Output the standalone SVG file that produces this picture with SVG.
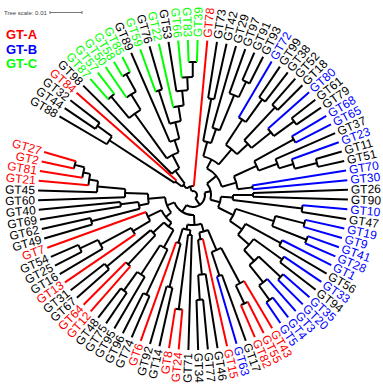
<svg xmlns="http://www.w3.org/2000/svg" width="383" height="386" viewBox="0 0 383 386">
<style>
.t text{font-family:"Liberation Sans",Arial,sans-serif;font-size:12px;fill:#000}
.t .L{text-anchor:end}
.t .fr{fill:#f00}.t .fb{fill:#00f}.t .fg{fill:#0f0}
#connectors line,#connectors circle{fill:none;stroke:#000;stroke-width:2}
#connectors .sr{stroke:#f00}#connectors .sb{stroke:#00f}#connectors .sg{stroke:#0f0}
.leg{font-family:"Liberation Sans",Arial,sans-serif;font-weight:bold;font-size:13px}
</style>
<rect width="383" height="386" fill="#fff"/>
<g id="scale">
<text x="4" y="14.5" font-family="Liberation Sans,Arial,sans-serif" font-size="6" fill="#444">Tree scale: 0.01</text>
<path d="M50 12.5H82M50 11V14M82 11V14" stroke="#777" stroke-width="1" fill="none"/>
</g>
<g id="legend" class="leg">
<text x="6" y="39.3" fill="#f00">GT-A</text>
<text x="6" y="54" fill="#00f">GT-B</text>
<text x="6" y="68.3" fill="#0f0">GT-C</text>
</g>
<g id="connectors" transform="translate(193,195) rotate(300.5)">
<!-- A -->
<circle r="118" pathLength="360" stroke-dasharray="3.6 360" transform="rotate(-86.4)"/>
<line transform="rotate(3.6)" y1="-118" y2="-155"/>
<line transform="rotate(7.2)" y1="-118" y2="-155"/>
<circle r="100" pathLength="360" stroke-dasharray="5.4 360" transform="rotate(-90)"/>
<line transform="rotate(0)" y1="-100" y2="-155"/>
<line transform="rotate(5.4)" y1="-100" y2="-118"/>
<circle r="22" pathLength="360" stroke-dasharray="8.1 360" transform="rotate(-87.3)"/>
<line transform="rotate(2.7)" y1="-22" y2="-100"/>
<line class="sr" transform="rotate(10.8)" y1="-22" y2="-155"/>
<!-- B -->
<circle r="128" pathLength="360" stroke-dasharray="3.6 360" transform="rotate(-72)"/>
<line class="sg" transform="rotate(18)" y1="-128" y2="-155"/>
<line class="sg" transform="rotate(21.6)" y1="-128" y2="-155"/>
<circle r="138" pathLength="360" stroke-dasharray="3.6 360" transform="rotate(-61.2)"/>
<line class="sg" transform="rotate(28.8)" y1="-138" y2="-155"/>
<line class="sg" transform="rotate(32.4)" y1="-138" y2="-155"/>
<circle r="118" pathLength="360" stroke-dasharray="5.4 360" transform="rotate(-64.8)"/>
<line class="sg" transform="rotate(25.2)" y1="-118" y2="-155"/>
<line transform="rotate(30.6)" y1="-118" y2="-138"/>
<circle r="100" pathLength="360" stroke-dasharray="8.1 360" transform="rotate(-70.2)"/>
<line transform="rotate(19.8)" y1="-100" y2="-128"/>
<line transform="rotate(27.9)" y1="-100" y2="-118"/>
<circle r="110" pathLength="360" stroke-dasharray="3.6 360" transform="rotate(-50.4)"/>
<line class="sg" transform="rotate(39.6)" y1="-110" y2="-155"/>
<line transform="rotate(43.2)" y1="-110" y2="-155"/>
<circle r="133" pathLength="360" stroke-dasharray="3.6 360" transform="rotate(-32.4)"/>
<line class="sg" transform="rotate(57.6)" y1="-133" y2="-155"/>
<line class="sg" transform="rotate(61.2)" y1="-133" y2="-155"/>
<circle r="118" pathLength="360" stroke-dasharray="5.4 360" transform="rotate(-36)"/>
<line class="sg" transform="rotate(54)" y1="-118" y2="-155"/>
<line transform="rotate(59.4)" y1="-118" y2="-133"/>
<circle r="105" pathLength="360" stroke-dasharray="6.3 360" transform="rotate(-39.6)"/>
<line transform="rotate(50.4)" y1="-105" y2="-155"/>
<line transform="rotate(56.7)" y1="-105" y2="-118"/>
<circle r="90" pathLength="360" stroke-dasharray="6.75 360" transform="rotate(-43.2)"/>
<line class="sg" transform="rotate(46.8)" y1="-90" y2="-155"/>
<line transform="rotate(53.55)" y1="-90" y2="-105"/>
<circle r="75" pathLength="360" stroke-dasharray="8.78 360" transform="rotate(-48.6)"/>
<line transform="rotate(41.4)" y1="-75" y2="-110"/>
<line transform="rotate(50.18)" y1="-75" y2="-90"/>
<circle r="58" pathLength="360" stroke-dasharray="9.79 360" transform="rotate(-54)"/>
<line transform="rotate(36)" y1="-58" y2="-155"/>
<line transform="rotate(45.79)" y1="-58" y2="-75"/>
<circle r="45" pathLength="360" stroke-dasharray="17.05 360" transform="rotate(-66.15)"/>
<line transform="rotate(23.85)" y1="-45" y2="-100"/>
<line transform="rotate(40.9)" y1="-45" y2="-58"/>
<circle r="30" pathLength="360" stroke-dasharray="17.96 360" transform="rotate(-75.6)"/>
<line transform="rotate(14.4)" y1="-30" y2="-155"/>
<line transform="rotate(32.36)" y1="-30" y2="-45"/>
<circle r="14" pathLength="360" stroke-dasharray="16.65 360" transform="rotate(-83.25)"/>
<line transform="rotate(6.75)" y1="-14" y2="-22"/>
<line transform="rotate(23.4)" y1="-14" y2="-30"/>
<circle r="9" pathLength="360" stroke-dasharray="49.72 360" transform="rotate(-74.92)"/>
<line transform="rotate(15.08)" y1="-9" y2="-14"/>
<line class="sr" transform="rotate(64.8)" y1="-9" y2="-155"/>
<!-- C -->
<circle r="98" pathLength="360" stroke-dasharray="3.6 360" transform="rotate(-21.6)"/>
<line transform="rotate(68.4)" y1="-98" y2="-155"/>
<line transform="rotate(72)" y1="-98" y2="-155"/>
<circle r="125" pathLength="360" stroke-dasharray="3.6 360" transform="rotate(-7.2)"/>
<line transform="rotate(82.8)" y1="-125" y2="-155"/>
<line transform="rotate(86.4)" y1="-125" y2="-155"/>
<circle r="108" pathLength="360" stroke-dasharray="5.4 360" transform="rotate(-10.8)"/>
<line transform="rotate(79.2)" y1="-108" y2="-155"/>
<line transform="rotate(84.6)" y1="-108" y2="-125"/>
<circle r="70" pathLength="360" stroke-dasharray="6.3 360" transform="rotate(-14.4)"/>
<line transform="rotate(75.6)" y1="-70" y2="-155"/>
<line transform="rotate(81.9)" y1="-70" y2="-108"/>
<circle r="55" pathLength="360" stroke-dasharray="8.55 360" transform="rotate(-19.8)"/>
<line transform="rotate(70.2)" y1="-55" y2="-98"/>
<line transform="rotate(78.75)" y1="-55" y2="-70"/>
<circle r="118" pathLength="360" stroke-dasharray="3.6 360" transform="rotate(3.6)"/>
<line transform="rotate(93.6)" y1="-118" y2="-155"/>
<line transform="rotate(97.2)" y1="-118" y2="-155"/>
<circle r="90" pathLength="360" stroke-dasharray="5.4 360" transform="rotate(0)"/>
<line class="sb" transform="rotate(90)" y1="-90" y2="-155"/>
<line transform="rotate(95.4)" y1="-90" y2="-118"/>
<circle r="120" pathLength="360" stroke-dasharray="3.6 360" transform="rotate(10.8)"/>
<line transform="rotate(100.8)" y1="-120" y2="-155"/>
<line transform="rotate(104.4)" y1="-120" y2="-155"/>
<circle r="125" pathLength="360" stroke-dasharray="3.6 360" transform="rotate(21.6)"/>
<line transform="rotate(111.6)" y1="-125" y2="-155"/>
<line transform="rotate(115.2)" y1="-125" y2="-155"/>
<circle r="100" pathLength="360" stroke-dasharray="5.4 360" transform="rotate(18)"/>
<line class="sb" transform="rotate(108)" y1="-100" y2="-155"/>
<line transform="rotate(113.4)" y1="-100" y2="-125"/>
<circle r="75" pathLength="360" stroke-dasharray="8.1 360" transform="rotate(12.6)"/>
<line transform="rotate(102.6)" y1="-75" y2="-120"/>
<line transform="rotate(110.7)" y1="-75" y2="-100"/>
<circle r="60" pathLength="360" stroke-dasharray="13.95 360" transform="rotate(2.7)"/>
<line transform="rotate(92.7)" y1="-60" y2="-90"/>
<line transform="rotate(106.65)" y1="-60" y2="-75"/>
<circle r="40" pathLength="360" stroke-dasharray="25.2 360" transform="rotate(-15.52)"/>
<line transform="rotate(74.48)" y1="-40" y2="-55"/>
<line transform="rotate(99.68)" y1="-40" y2="-60"/>
<circle r="115" pathLength="360" stroke-dasharray="3.6 360" transform="rotate(28.8)"/>
<line class="sb" transform="rotate(118.8)" y1="-115" y2="-155"/>
<line class="sb" transform="rotate(122.4)" y1="-115" y2="-155"/>
<circle r="128" pathLength="360" stroke-dasharray="3.6 360" transform="rotate(43.2)"/>
<line transform="rotate(133.2)" y1="-128" y2="-155"/>
<line transform="rotate(136.8)" y1="-128" y2="-155"/>
<circle r="105" pathLength="360" stroke-dasharray="5.4 360" transform="rotate(39.6)"/>
<line class="sb" transform="rotate(129.6)" y1="-105" y2="-155"/>
<line transform="rotate(135)" y1="-105" y2="-128"/>
<circle r="90" pathLength="360" stroke-dasharray="6.3 360" transform="rotate(36)"/>
<line transform="rotate(126)" y1="-90" y2="-155"/>
<line transform="rotate(132.3)" y1="-90" y2="-105"/>
<circle r="70" pathLength="360" stroke-dasharray="8.55 360" transform="rotate(30.6)"/>
<line transform="rotate(120.6)" y1="-70" y2="-115"/>
<line transform="rotate(129.15)" y1="-70" y2="-90"/>
<circle r="60" pathLength="360" stroke-dasharray="3.6 360" transform="rotate(50.4)"/>
<line class="sb" transform="rotate(140.4)" y1="-60" y2="-155"/>
<line class="sb" transform="rotate(144)" y1="-60" y2="-155"/>
<circle r="45" pathLength="360" stroke-dasharray="17.32 360" transform="rotate(34.88)"/>
<line transform="rotate(124.88)" y1="-45" y2="-70"/>
<line transform="rotate(142.2)" y1="-45" y2="-60"/>
<circle r="30" pathLength="360" stroke-dasharray="46.44 360" transform="rotate(-2.92)"/>
<line transform="rotate(87.08)" y1="-30" y2="-40"/>
<line transform="rotate(133.52)" y1="-30" y2="-45"/>
<!-- D -->
<circle r="60" pathLength="360" stroke-dasharray="3.6 360" transform="rotate(57.6)"/>
<line transform="rotate(147.6)" y1="-60" y2="-155"/>
<line transform="rotate(151.2)" y1="-60" y2="-155"/>
<circle r="110" pathLength="360" stroke-dasharray="3.6 360" transform="rotate(64.8)"/>
<line class="sb" transform="rotate(154.8)" y1="-110" y2="-155"/>
<line transform="rotate(158.4)" y1="-110" y2="-155"/>
<circle r="40" pathLength="360" stroke-dasharray="7.2 360" transform="rotate(59.4)"/>
<line transform="rotate(149.4)" y1="-40" y2="-60"/>
<line transform="rotate(156.6)" y1="-40" y2="-110"/>
<circle r="115" pathLength="360" stroke-dasharray="3.6 360" transform="rotate(72)"/>
<line class="sb" transform="rotate(162)" y1="-115" y2="-155"/>
<line class="sb" transform="rotate(165.6)" y1="-115" y2="-155"/>
<circle r="122" pathLength="360" stroke-dasharray="3.6 360" transform="rotate(79.2)"/>
<line class="sb" transform="rotate(169.2)" y1="-122" y2="-155"/>
<line class="sb" transform="rotate(172.8)" y1="-122" y2="-155"/>
<circle r="85" pathLength="360" stroke-dasharray="7.2 360" transform="rotate(73.8)"/>
<line transform="rotate(163.8)" y1="-85" y2="-115"/>
<line transform="rotate(171)" y1="-85" y2="-122"/>
<circle r="100" pathLength="360" stroke-dasharray="3.6 360" transform="rotate(86.4)"/>
<line class="sb" transform="rotate(176.4)" y1="-100" y2="-155"/>
<line transform="rotate(180)" y1="-100" y2="-155"/>
<circle r="110" pathLength="360" stroke-dasharray="3.6 360" transform="rotate(93.6)"/>
<line class="sb" transform="rotate(183.6)" y1="-110" y2="-155"/>
<line transform="rotate(187.2)" y1="-110" y2="-155"/>
<circle r="120" pathLength="360" stroke-dasharray="3.6 360" transform="rotate(100.8)"/>
<line class="sb" transform="rotate(190.8)" y1="-120" y2="-155"/>
<line class="sb" transform="rotate(194.4)" y1="-120" y2="-155"/>
<circle r="130" pathLength="360" stroke-dasharray="3.6 360" transform="rotate(111.6)"/>
<line class="sb" transform="rotate(201.6)" y1="-130" y2="-155"/>
<line class="sb" transform="rotate(205.2)" y1="-130" y2="-155"/>
<circle r="112" pathLength="360" stroke-dasharray="5.4 360" transform="rotate(108)"/>
<line class="sb" transform="rotate(198)" y1="-112" y2="-155"/>
<line transform="rotate(203.4)" y1="-112" y2="-130"/>
<circle r="90" pathLength="360" stroke-dasharray="8.1 360" transform="rotate(102.6)"/>
<line transform="rotate(192.6)" y1="-90" y2="-120"/>
<line transform="rotate(200.7)" y1="-90" y2="-112"/>
<circle r="75" pathLength="360" stroke-dasharray="11.25 360" transform="rotate(95.4)"/>
<line transform="rotate(185.4)" y1="-75" y2="-110"/>
<line transform="rotate(196.65)" y1="-75" y2="-90"/>
<circle r="60" pathLength="360" stroke-dasharray="12.82 360" transform="rotate(88.2)"/>
<line transform="rotate(178.2)" y1="-60" y2="-100"/>
<line transform="rotate(191.02)" y1="-60" y2="-75"/>
<circle r="45" pathLength="360" stroke-dasharray="17.21 360" transform="rotate(77.4)"/>
<line transform="rotate(167.4)" y1="-45" y2="-85"/>
<line transform="rotate(184.61)" y1="-45" y2="-60"/>
<circle r="28" pathLength="360" stroke-dasharray="23 360" transform="rotate(63)"/>
<line transform="rotate(153)" y1="-28" y2="-40"/>
<line transform="rotate(176)" y1="-28" y2="-45"/>
<circle r="18" pathLength="360" stroke-dasharray="54.22 360" transform="rotate(20.3)"/>
<line transform="rotate(110.3)" y1="-18" y2="-30"/>
<line transform="rotate(164.52)" y1="-18" y2="-28"/>
<!-- E -->
<circle r="120" pathLength="360" stroke-dasharray="3.6 360" transform="rotate(122.4)"/>
<line class="sr" transform="rotate(212.4)" y1="-120" y2="-155"/>
<line class="sr" transform="rotate(216)" y1="-120" y2="-155"/>
<circle r="100" pathLength="360" stroke-dasharray="5.4 360" transform="rotate(118.8)"/>
<line class="sr" transform="rotate(208.8)" y1="-100" y2="-155"/>
<line transform="rotate(214.2)" y1="-100" y2="-120"/>
<circle r="85" pathLength="360" stroke-dasharray="3.6 360" transform="rotate(129.6)"/>
<line transform="rotate(219.6)" y1="-85" y2="-155"/>
<line class="sb" transform="rotate(223.2)" y1="-85" y2="-155"/>
<circle r="60" pathLength="360" stroke-dasharray="9.9 360" transform="rotate(121.5)"/>
<line transform="rotate(211.5)" y1="-60" y2="-100"/>
<line transform="rotate(221.4)" y1="-60" y2="-85"/>
<circle r="105" pathLength="360" stroke-dasharray="3.6 360" transform="rotate(144)"/>
<line transform="rotate(234)" y1="-105" y2="-155"/>
<line transform="rotate(237.6)" y1="-105" y2="-155"/>
<circle r="80" pathLength="360" stroke-dasharray="5.4 360" transform="rotate(140.4)"/>
<line transform="rotate(230.4)" y1="-80" y2="-155"/>
<line transform="rotate(235.8)" y1="-80" y2="-105"/>
<circle r="45" pathLength="360" stroke-dasharray="6.3 360" transform="rotate(136.8)"/>
<line class="sr" transform="rotate(226.8)" y1="-45" y2="-155"/>
<line transform="rotate(233.1)" y1="-45" y2="-80"/>
<circle r="38" pathLength="360" stroke-dasharray="13.5 360" transform="rotate(126.45)"/>
<line transform="rotate(216.45)" y1="-38" y2="-60"/>
<line transform="rotate(229.95)" y1="-38" y2="-45"/>
<circle r="115" pathLength="360" stroke-dasharray="3.6 360" transform="rotate(154.8)"/>
<line class="sr" transform="rotate(244.8)" y1="-115" y2="-155"/>
<line class="sr" transform="rotate(248.4)" y1="-115" y2="-155"/>
<circle r="40" pathLength="360" stroke-dasharray="5.4 360" transform="rotate(151.2)"/>
<line transform="rotate(241.2)" y1="-40" y2="-155"/>
<line transform="rotate(246.6)" y1="-40" y2="-115"/>
<circle r="95" pathLength="360" stroke-dasharray="3.6 360" transform="rotate(162)"/>
<line transform="rotate(252)" y1="-95" y2="-155"/>
<line transform="rotate(255.6)" y1="-95" y2="-155"/>
<circle r="50" pathLength="360" stroke-dasharray="5.4 360" transform="rotate(163.8)"/>
<line transform="rotate(253.8)" y1="-50" y2="-95"/>
<line class="sr" transform="rotate(259.2)" y1="-50" y2="-155"/>
<circle r="35" pathLength="360" stroke-dasharray="12.6 360" transform="rotate(153.9)"/>
<line transform="rotate(243.9)" y1="-35" y2="-40"/>
<line transform="rotate(256.5)" y1="-35" y2="-50"/>
<circle r="30" pathLength="360" stroke-dasharray="27 360" transform="rotate(133.2)"/>
<line transform="rotate(223.2)" y1="-30" y2="-38"/>
<line transform="rotate(250.2)" y1="-30" y2="-35"/>
<!-- F -->
<circle r="110" pathLength="360" stroke-dasharray="3.6 360" transform="rotate(172.8)"/>
<line transform="rotate(262.8)" y1="-110" y2="-155"/>
<line transform="rotate(266.4)" y1="-110" y2="-155"/>
<circle r="118" pathLength="360" stroke-dasharray="3.6 360" transform="rotate(183.6)"/>
<line transform="rotate(273.6)" y1="-118" y2="-155"/>
<line transform="rotate(277.2)" y1="-118" y2="-155"/>
<circle r="95" pathLength="360" stroke-dasharray="5.4 360" transform="rotate(180)"/>
<line transform="rotate(270)" y1="-95" y2="-155"/>
<line transform="rotate(275.4)" y1="-95" y2="-118"/>
<circle r="60" pathLength="360" stroke-dasharray="8.1 360" transform="rotate(174.6)"/>
<line transform="rotate(264.6)" y1="-60" y2="-110"/>
<line transform="rotate(272.7)" y1="-60" y2="-95"/>
<circle r="95" pathLength="360" stroke-dasharray="3.6 360" transform="rotate(190.8)"/>
<line class="sr" transform="rotate(280.8)" y1="-95" y2="-155"/>
<line class="sr" transform="rotate(284.4)" y1="-95" y2="-155"/>
<circle r="112" pathLength="360" stroke-dasharray="3.6 360" transform="rotate(198)"/>
<line transform="rotate(288)" y1="-112" y2="-155"/>
<line transform="rotate(291.6)" y1="-112" y2="-155"/>
<circle r="55" pathLength="360" stroke-dasharray="7.2 360" transform="rotate(192.6)"/>
<line transform="rotate(282.6)" y1="-55" y2="-95"/>
<line transform="rotate(289.8)" y1="-55" y2="-112"/>
<circle r="40" pathLength="360" stroke-dasharray="17.55 360" transform="rotate(178.65)"/>
<line transform="rotate(268.65)" y1="-40" y2="-60"/>
<line transform="rotate(286.2)" y1="-40" y2="-55"/>
<circle r="125" pathLength="360" stroke-dasharray="3.6 360" transform="rotate(212.4)"/>
<line transform="rotate(302.4)" y1="-125" y2="-155"/>
<line transform="rotate(306)" y1="-125" y2="-155"/>
<circle r="105" pathLength="360" stroke-dasharray="5.4 360" transform="rotate(208.8)"/>
<line transform="rotate(298.8)" y1="-105" y2="-155"/>
<line transform="rotate(304.2)" y1="-105" y2="-125"/>
<circle r="70" pathLength="360" stroke-dasharray="6.3 360" transform="rotate(205.2)"/>
<line class="sr" transform="rotate(295.2)" y1="-70" y2="-155"/>
<line transform="rotate(301.5)" y1="-70" y2="-105"/>
<circle r="50" pathLength="360" stroke-dasharray="11.25 360" transform="rotate(208.35)"/>
<line transform="rotate(298.35)" y1="-50" y2="-70"/>
<line class="sr" transform="rotate(309.6)" y1="-50" y2="-155"/>
<circle r="35" pathLength="360" stroke-dasharray="26.56 360" transform="rotate(187.42)"/>
<line transform="rotate(277.42)" y1="-35" y2="-40"/>
<line transform="rotate(303.98)" y1="-35" y2="-50"/>
<circle r="105" pathLength="360" stroke-dasharray="3.6 360" transform="rotate(223.2)"/>
<line transform="rotate(313.2)" y1="-105" y2="-155"/>
<line transform="rotate(316.8)" y1="-105" y2="-155"/>
<circle r="73" pathLength="360" stroke-dasharray="3.6 360" transform="rotate(230.4)"/>
<line transform="rotate(320.4)" y1="-73" y2="-155"/>
<line transform="rotate(324)" y1="-73" y2="-155"/>
<circle r="55" pathLength="360" stroke-dasharray="7.2 360" transform="rotate(225)"/>
<line transform="rotate(315)" y1="-55" y2="-105"/>
<line transform="rotate(322.2)" y1="-55" y2="-73"/>
<circle r="122" pathLength="360" stroke-dasharray="3.6 360" transform="rotate(252)"/>
<line class="sr" transform="rotate(342)" y1="-122" y2="-155"/>
<line class="sr" transform="rotate(345.6)" y1="-122" y2="-155"/>
<circle r="112" pathLength="360" stroke-dasharray="5.4 360" transform="rotate(248.4)"/>
<line class="sr" transform="rotate(338.4)" y1="-112" y2="-155"/>
<line transform="rotate(343.8)" y1="-112" y2="-122"/>
<circle r="105" pathLength="360" stroke-dasharray="6.3 360" transform="rotate(244.8)"/>
<line class="sr" transform="rotate(334.8)" y1="-105" y2="-155"/>
<line transform="rotate(341.1)" y1="-105" y2="-112"/>
<circle r="96" pathLength="360" stroke-dasharray="6.75 360" transform="rotate(241.2)"/>
<line transform="rotate(331.2)" y1="-96" y2="-155"/>
<line transform="rotate(337.95)" y1="-96" y2="-105"/>
<circle r="68" pathLength="360" stroke-dasharray="6.98 360" transform="rotate(237.6)"/>
<line transform="rotate(327.6)" y1="-68" y2="-155"/>
<line transform="rotate(334.58)" y1="-68" y2="-96"/>
<circle r="45" pathLength="360" stroke-dasharray="12.49 360" transform="rotate(228.6)"/>
<line transform="rotate(318.6)" y1="-45" y2="-55"/>
<line transform="rotate(331.09)" y1="-45" y2="-68"/>
<circle r="28" pathLength="360" stroke-dasharray="34.13 360" transform="rotate(200.7)"/>
<line transform="rotate(290.7)" y1="-28" y2="-35"/>
<line transform="rotate(324.83)" y1="-28" y2="-45"/>
<circle r="20" pathLength="360" stroke-dasharray="71.06 360" transform="rotate(146.7)"/>
<line transform="rotate(236.7)" y1="-20" y2="-30"/>
<line transform="rotate(307.76)" y1="-20" y2="-28"/>
<circle r="12" pathLength="360" stroke-dasharray="134.82 360" transform="rotate(47.41)"/>
<line transform="rotate(137.41)" y1="-12" y2="-18"/>
<line transform="rotate(272.23)" y1="-12" y2="-20"/>
<circle r="4" pathLength="360" stroke-dasharray="164.84 360" transform="rotate(-50.04)"/>
<line transform="rotate(39.96)" y1="-4" y2="-9"/>
<line transform="rotate(204.8)" y1="-4" y2="-12"/>
</g>
<g class="t" transform="translate(193,195)">
<g id="GT88"><text class="L" transform="rotate(30.5) translate(-158,0)" dy="4">GT88</text></g>
<g id="GT44"><text class="L" transform="rotate(34.1) translate(-158,0)" dy="4">GT44</text></g>
<g id="GT32"><text class="L" transform="rotate(37.7) translate(-158,0)" dy="4">GT32</text></g>
<g id="GT84"><text class="L fr" transform="rotate(41.3) translate(-158,0)" dy="4">GT84</text></g>
<g id="GT98"><text class="L" transform="rotate(44.9) translate(-158,0)" dy="4">GT98</text></g>
<g id="GT87"><text class="L fg" transform="rotate(48.5) translate(-158,0)" dy="4">GT87</text></g>
<g id="GT57"><text class="L fg" transform="rotate(52.1) translate(-158,0)" dy="4">GT57</text></g>
<g id="GT50"><text class="L fg" transform="rotate(55.7) translate(-158,0)" dy="4">GT50</text></g>
<g id="GT58"><text class="L fg" transform="rotate(59.3) translate(-158,0)" dy="4">GT58</text></g>
<g id="GT85"><text class="L fg" transform="rotate(62.9) translate(-158,0)" dy="4">GT85</text></g>
<g id="GT89"><text class="L" transform="rotate(66.5) translate(-158,0)" dy="4">GT89</text></g>
<g id="GT59"><text class="L fg" transform="rotate(70.1) translate(-158,0)" dy="4">GT59</text></g>
<g id="GT76"><text class="L" transform="rotate(73.7) translate(-158,0)" dy="4">GT76</text></g>
<g id="GT22"><text class="L fg" transform="rotate(77.3) translate(-158,0)" dy="4">GT22</text></g>
<g id="GT53"><text class="L" transform="rotate(80.9) translate(-158,0)" dy="4">GT53</text></g>
<g id="GT66"><text class="L fg" transform="rotate(84.5) translate(-158,0)" dy="4">GT66</text></g>
<g id="GT83"><text class="L fg" transform="rotate(88.1) translate(-158,0)" dy="4">GT83</text></g>
<g id="GT39"><text class="fg" transform="rotate(-88.3) translate(158,0)" dy="4">GT39</text></g>
<g id="GT78"><text class="fr" transform="rotate(-84.7) translate(158,0)" dy="4">GT78</text></g>
<g id="GT73"><text transform="rotate(-81.1) translate(158,0)" dy="4">GT73</text></g>
<g id="GT42"><text transform="rotate(-77.5) translate(158,0)" dy="4">GT42</text></g>
<g id="GT29"><text transform="rotate(-73.9) translate(158,0)" dy="4">GT29</text></g>
<g id="GT97"><text transform="rotate(-70.3) translate(158,0)" dy="4">GT97</text></g>
<g id="GT91"><text transform="rotate(-66.7) translate(158,0)" dy="4">GT91</text></g>
<g id="GT93"><text transform="rotate(-63.1) translate(158,0)" dy="4">GT93</text></g>
<g id="GT72"><text class="fb" transform="rotate(-59.5) translate(158,0)" dy="4">GT72</text></g>
<g id="GT99"><text transform="rotate(-55.9) translate(158,0)" dy="4">GT99</text></g>
<g id="GT38"><text transform="rotate(-52.3) translate(158,0)" dy="4">GT38</text></g>
<g id="GT52"><text transform="rotate(-48.7) translate(158,0)" dy="4">GT52</text></g>
<g id="GT18"><text transform="rotate(-45.1) translate(158,0)" dy="4">GT18</text></g>
<g id="GT80"><text class="fb" transform="rotate(-41.5) translate(158,0)" dy="4">GT80</text></g>
<g id="GT61"><text transform="rotate(-37.9) translate(158,0)" dy="4">GT61</text></g>
<g id="GT79"><text transform="rotate(-34.3) translate(158,0)" dy="4">GT79</text></g>
<g id="GT68"><text class="fb" transform="rotate(-30.7) translate(158,0)" dy="4">GT68</text></g>
<g id="GT65"><text class="fb" transform="rotate(-27.1) translate(158,0)" dy="4">GT65</text></g>
<g id="GT37"><text transform="rotate(-23.5) translate(158,0)" dy="4">GT37</text></g>
<g id="GT23"><text class="fb" transform="rotate(-19.9) translate(158,0)" dy="4">GT23</text></g>
<g id="GT11"><text transform="rotate(-16.3) translate(158,0)" dy="4">GT11</text></g>
<g id="GT51"><text transform="rotate(-12.7) translate(158,0)" dy="4">GT51</text></g>
<g id="GT70"><text class="fb" transform="rotate(-9.1) translate(158,0)" dy="4">GT70</text></g>
<g id="GT30"><text class="fb" transform="rotate(-5.5) translate(158,0)" dy="4">GT30</text></g>
<g id="GT26"><text transform="rotate(-1.9) translate(158,0)" dy="4">GT26</text></g>
<g id="GT90"><text transform="rotate(1.7) translate(158,0)" dy="4">GT90</text></g>
<g id="GT10"><text class="fb" transform="rotate(5.3) translate(158,0)" dy="4">GT10</text></g>
<g id="GT47"><text transform="rotate(8.9) translate(158,0)" dy="4">GT47</text></g>
<g id="GT19"><text class="fb" transform="rotate(12.5) translate(158,0)" dy="4">GT19</text></g>
<g id="GT9"><text class="fb" transform="rotate(16.1) translate(158,0)" dy="4">GT9</text></g>
<g id="GT41"><text class="fb" transform="rotate(19.7) translate(158,0)" dy="4">GT41</text></g>
<g id="GT28"><text class="fb" transform="rotate(23.3) translate(158,0)" dy="4">GT28</text></g>
<g id="GT1"><text class="fb" transform="rotate(26.9) translate(158,0)" dy="4">GT1</text></g>
<g id="GT56"><text transform="rotate(30.5) translate(158,0)" dy="4">GT56</text></g>
<g id="GT33"><text class="fb" transform="rotate(34.1) translate(158,0)" dy="4">GT33</text></g>
<g id="GT94"><text transform="rotate(37.7) translate(158,0)" dy="4">GT94</text></g>
<g id="GT35"><text class="fb" transform="rotate(41.3) translate(158,0)" dy="4">GT35</text></g>
<g id="GT20"><text class="fb" transform="rotate(44.9) translate(158,0)" dy="4">GT20</text></g>
<g id="GT3"><text class="fb" transform="rotate(48.5) translate(158,0)" dy="4">GT3</text></g>
<g id="GT4"><text class="fb" transform="rotate(52.1) translate(158,0)" dy="4">GT4</text></g>
<g id="GT5"><text class="fb" transform="rotate(55.7) translate(158,0)" dy="4">GT5</text></g>
<g id="GT43"><text class="fr" transform="rotate(59.3) translate(158,0)" dy="4">GT43</text></g>
<g id="GT55"><text class="fr" transform="rotate(62.9) translate(158,0)" dy="4">GT55</text></g>
<g id="GT82"><text class="fr" transform="rotate(66.5) translate(158,0)" dy="4">GT82</text></g>
<g id="GT17"><text transform="rotate(70.1) translate(158,0)" dy="4">GT17</text></g>
<g id="GT63"><text class="fb" transform="rotate(73.7) translate(158,0)" dy="4">GT63</text></g>
<g id="GT15"><text class="fr" transform="rotate(77.3) translate(158,0)" dy="4">GT15</text></g>
<g id="GT46"><text transform="rotate(80.9) translate(158,0)" dy="4">GT46</text></g>
<g id="GT77"><text transform="rotate(84.5) translate(158,0)" dy="4">GT77</text></g>
<g id="GT34"><text transform="rotate(88.1) translate(158,0)" dy="4">GT34</text></g>
<g id="GT71"><text class="L" transform="rotate(-88.3) translate(-158,0)" dy="4">GT71</text></g>
<g id="GT24"><text class="L fr" transform="rotate(-84.7) translate(-158,0)" dy="4">GT24</text></g>
<g id="GT8"><text class="L fr" transform="rotate(-81.1) translate(-158,0)" dy="4">GT8</text></g>
<g id="GT14"><text class="L" transform="rotate(-77.5) translate(-158,0)" dy="4">GT14</text></g>
<g id="GT92"><text class="L" transform="rotate(-73.9) translate(-158,0)" dy="4">GT92</text></g>
<g id="GT6"><text class="L fr" transform="rotate(-70.3) translate(-158,0)" dy="4">GT6</text></g>
<g id="GT74"><text class="L" transform="rotate(-66.7) translate(-158,0)" dy="4">GT74</text></g>
<g id="GT96"><text class="L" transform="rotate(-63.1) translate(-158,0)" dy="4">GT96</text></g>
<g id="GT95"><text class="L" transform="rotate(-59.5) translate(-158,0)" dy="4">GT95</text></g>
<g id="GT75"><text class="L" transform="rotate(-55.9) translate(-158,0)" dy="4">GT75</text></g>
<g id="GT48"><text class="L" transform="rotate(-52.3) translate(-158,0)" dy="4">GT48</text></g>
<g id="GT12"><text class="L fr" transform="rotate(-48.7) translate(-158,0)" dy="4">GT12</text></g>
<g id="GT64"><text class="L fr" transform="rotate(-45.1) translate(-158,0)" dy="4">GT64</text></g>
<g id="GT67"><text class="L" transform="rotate(-41.5) translate(-158,0)" dy="4">GT67</text></g>
<g id="GT31"><text class="L" transform="rotate(-37.9) translate(-158,0)" dy="4">GT31</text></g>
<g id="GT13"><text class="L fr" transform="rotate(-34.3) translate(-158,0)" dy="4">GT13</text></g>
<g id="GT16"><text class="L" transform="rotate(-30.7) translate(-158,0)" dy="4">GT16</text></g>
<g id="GT25"><text class="L" transform="rotate(-27.1) translate(-158,0)" dy="4">GT25</text></g>
<g id="GT54"><text class="L" transform="rotate(-23.5) translate(-158,0)" dy="4">GT54</text></g>
<g id="GT7"><text class="L fr" transform="rotate(-19.9) translate(-158,0)" dy="4">GT7</text></g>
<g id="GT49"><text class="L" transform="rotate(-16.3) translate(-158,0)" dy="4">GT49</text></g>
<g id="GT62"><text class="L" transform="rotate(-12.7) translate(-158,0)" dy="4">GT62</text></g>
<g id="GT69"><text class="L" transform="rotate(-9.1) translate(-158,0)" dy="4">GT69</text></g>
<g id="GT40"><text class="L" transform="rotate(-5.5) translate(-158,0)" dy="4">GT40</text></g>
<g id="GT60"><text class="L" transform="rotate(-1.9) translate(-158,0)" dy="4">GT60</text></g>
<g id="GT45"><text class="L" transform="rotate(1.7) translate(-158,0)" dy="4">GT45</text></g>
<g id="GT21"><text class="L fr" transform="rotate(5.3) translate(-158,0)" dy="4">GT21</text></g>
<g id="GT81"><text class="L fr" transform="rotate(8.9) translate(-158,0)" dy="4">GT81</text></g>
<g id="GT2"><text class="L fr" transform="rotate(12.5) translate(-158,0)" dy="4">GT2</text></g>
<g id="GT27"><text class="L fr" transform="rotate(16.1) translate(-158,0)" dy="4">GT27</text></g>
</g>
</svg>
